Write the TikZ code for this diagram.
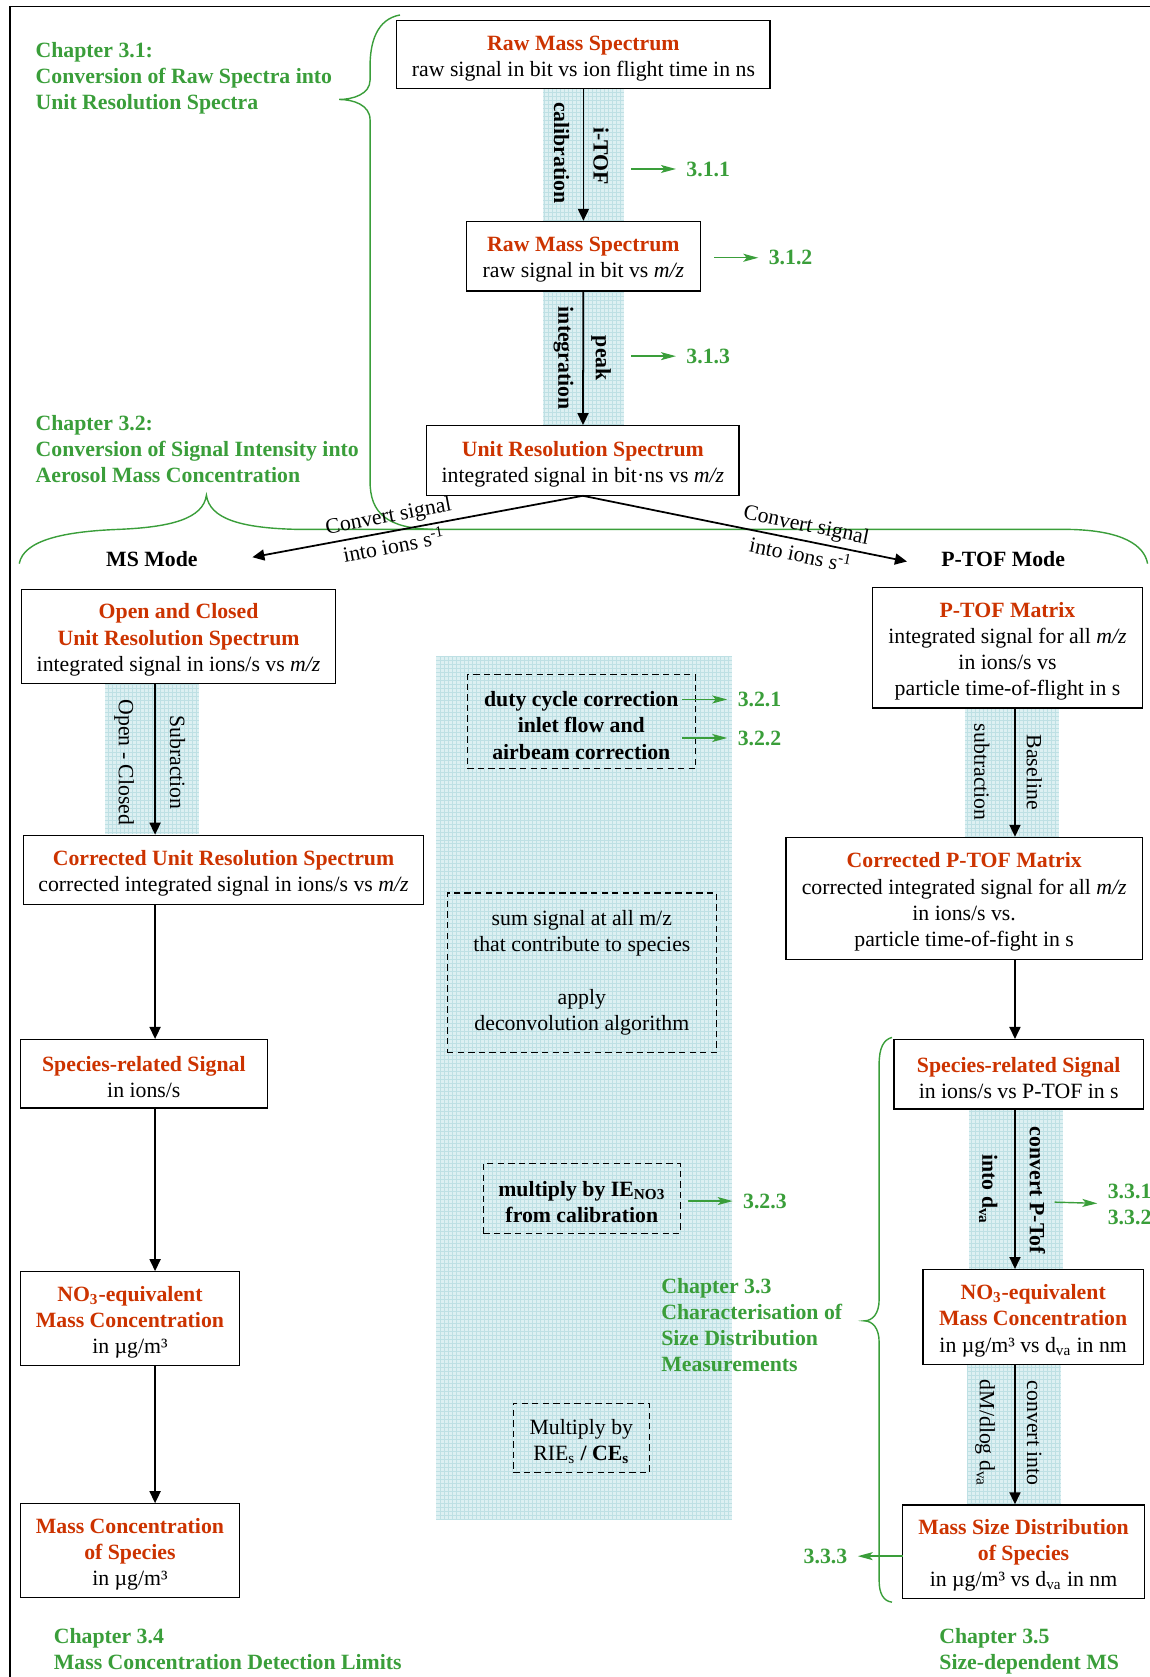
\documentclass[tikz,border=0pt]{standalone}
\usepackage{fontspec}
\setmainfont{Liberation Serif}
\usetikzlibrary{arrows.meta}

\definecolor{chapgreen}{RGB}{58,158,58}
\definecolor{titlered}{RGB}{204,51,0}
\definecolor{bandfill}{RGB}{221,240,242}
\definecolor{bandgrid}{RGB}{190,224,228}

\newcommand{\boxtitle}[1]{\textcolor{titlered}{\textbf{#1}}}
\newcommand{\mzunit}{\textit{m/z}}
\newcommand{\topstrut}{\rule{0pt}{12.6pt}}

\begin{document}
\begin{tikzpicture}[x=0.214mm,y=-0.214mm,
	every node/.style={font=\fontsize{12.4}{14.9}\selectfont},
	boldtxt/.style={font=\fontsize{12.4}{14.9}\selectfont\bfseries},
	box/.style={draw,line width=0.7pt,align=center,inner sep=0pt},
	dbox/.style={draw,line width=0.6pt,dash pattern=on 3.6pt off 2.4pt,align=center,inner sep=0pt},
	flow/.style={line width=1pt,-{Triangle[length=2.4mm,width=2.2mm]}},
	secarrow/.style={chapgreen,line width=0.8pt,-{Stealth[length=3mm,width=1.6mm,inset=0.7mm]}},
	secnum/.style={chapgreen,boldtxt,anchor=west,align=left,inner sep=0pt,outer sep=2.1mm},
	chapter/.style={chapgreen,boldtxt,anchor=west,align=left,inner sep=0pt},
	steplabel/.style={rotate=-90,inner sep=0pt},
	chapbrace/.style={chapgreen,line width=0.8pt}]
	\useasboundingbox (0,0) rectangle (1075,1568);

	\draw[line width=1pt] (9,1568) -- (9,6) -- (1075,6);

	\foreach \xa/\ya/\xb/\yb in {508/83/583/207, 508/272/583/397, 98/639/186/780, 408/613/684/1421, 902/662/990/783, 906/1037/994/1187, 904/1276/992/1406} {
		\fill[bandfill] (\xa,\ya) rectangle (\xb,\yb);
		\draw[bandgrid,line width=0.15pt,step=0.8mm] (\xa,\yb) grid (\xb,\ya);
	}

	\draw[chapbrace] (374,14) .. controls (352,18) and (346,40) .. (346,62)
		-- (346,75) .. controls (346,88) and (330,93) .. (317,93)
		.. controls (330,93) and (346,98) .. (346,112)
		-- (346,450) .. controls (346,480) and (362,494) .. (405,495);
	\draw[chapbrace] (18,527) .. controls (22,505) and (60,497) .. (110,495)
		.. controls (160,493) and (190,485) .. (193,463)
		.. controls (196,485) and (225,494) .. (280,495)
		-- (1000,495) .. controls (1050,496) and (1070,510) .. (1073,527);
	\draw[chapbrace] (834,970) .. controls (826,972) and (822,980) .. (822,995)
		-- (822,1215) .. controls (822,1228) and (816,1235) .. (808,1235)
		.. controls (816,1235) and (822,1242) .. (822,1255)
		-- (822,1478) .. controls (822,1490) and (826,1497) .. (834,1498);

	\node[chapter] (ch31) at (33,73) {Chapter 3.1:\\Conversion of Raw Spectra into\\Unit Resolution Spectra};
	\node[chapter] (ch32) at (33,420) {Chapter 3.2:\\Conversion of Signal Intensity into\\Aerosol Mass Concentration};
	\node[chapter] (ch33) at (618,1239) {Chapter 3.3\\Characterisation of\\Size Distribution\\Measurements};
	\node[chapter] (ch34) at (50,1542) {Chapter 3.4\\Mass Concentration Detection Limits};
	\node[chapter] (ch35) at (878,1544) {Chapter 3.5\\Size-dependent MS};

	\node[box,minimum width=74.7mm,minimum height=13.7mm] (raw) at (545.5,51) {\topstrut\boxtitle{Raw Mass Spectrum}\\raw signal in bit vs ion flight time in ns};
	\node[box,minimum width=46.9mm,minimum height=13.9mm] (rawmz) at (545.5,239.5) {\topstrut\boxtitle{Raw Mass Spectrum}\\raw signal in bit vs \mzunit};
	\node[box,minimum width=62.5mm,minimum height=13.9mm] (urs) at (545,430.5) {\topstrut\boxtitle{Unit Resolution Spectrum}\\integrated signal in bit·ns vs \mzunit};

	\node[boldtxt] (msmode) at (142,523) {MS Mode};
	\node[boldtxt] (ptmode) at (938,523) {P-TOF Mode};

	\node[box,minimum width=62.9mm,minimum height=18.8mm] (oc) at (167,595) {\topstrut\boxtitle{Open and Closed}\\\boxtitle{Unit Resolution Spectrum}\\integrated signal in ions/s vs \mzunit};
	\node[box,minimum width=80mm,minimum height=13.9mm] (curs) at (209,813.5) {\topstrut\boxtitle{Corrected Unit Resolution Spectrum}\\corrected integrated signal in ions/s vs \mzunit};
	\node[box,minimum width=49.4mm,minimum height=13.7mm] (srs) at (134.5,1004) {\topstrut\boxtitle{Species-related Signal}\\in ions/s};
	\node[box,minimum width=43.9mm,minimum height=18.8mm] (no3) at (121.5,1233) {\topstrut\boxtitle{NO\textsubscript{3}-equivalent}\\\boxtitle{Mass Concentration}\\in µg/m³};
	\node[box,minimum width=43.9mm,minimum height=18.8mm] (mcs) at (121.5,1450) {\topstrut\boxtitle{Mass Concentration}\\\boxtitle{of Species}\\in µg/m³};

	\node[box,minimum width=53.9mm,minimum height=24.2mm] (ptof) at (942,605.5) {\topstrut\boxtitle{P-TOF Matrix}\\integrated signal for all \mzunit\\in ions/s vs\\particle time-of-flight in s};
	\node[box,minimum width=71.3mm,minimum height=24.4mm] (cptof) at (901.5,840) {\topstrut\boxtitle{Corrected P-TOF Matrix}\\corrected integrated signal for all \mzunit\\in ions/s vs.\\particle time-of-fight in s};
	\node[box,minimum width=49.9mm,minimum height=13.9mm] (srp) at (952.5,1004.5) {\topstrut\boxtitle{Species-related Signal}\\in ions/s vs P-TOF in s};
	\node[box,minimum width=44.1mm,minimum height=19mm] (no3p) at (966,1231.5) {\topstrut\boxtitle{NO\textsubscript{3}-equivalent}\\\boxtitle{Mass Concentration}\\in µg/m³ vs d\textsubscript{va} in nm};
	\node[box,minimum width=48.4mm,minimum height=18.8mm] (msd) at (957,1451) {\topstrut\boxtitle{Mass Size Distribution}\\\boxtitle{of Species}\\in µg/m³ vs d\textsubscript{va} in nm};

	\node[dbox,boldtxt,minimum width=45.6mm,minimum height=18.8mm] (duty) at (543.5,675) {\topstrut duty cycle correction\\inlet flow and\\airbeam correction};
	\node[dbox,minimum width=53.9mm,minimum height=31.9mm] (deconv) at (544,909.5) {sum signal at all m/z\\that contribute to species\\[14.9pt]apply\\deconvolution algorithm};
	\node[dbox,boldtxt,minimum width=39.4mm,minimum height=13.9mm] (ieno) at (544,1120.5) {\topstrut multiply by IE\textsubscript{NO3}\\from calibration};
	\node[dbox,minimum width=27.2mm,minimum height=13.9mm] (rie) at (543.5,1344.5) {\topstrut Multiply by\\RIE\textsubscript{s} \textbf{/ CE\textsubscript{s}}};

	\node[steplabel,boldtxt] (calib) at (525,143) {calibration};
	\node[steplabel,boldtxt] (itof) at (562,146) {i-TOF};
	\node[steplabel,boldtxt] (integ) at (527,335) {integration};
	\node[steplabel,boldtxt] (peak) at (562,335) {peak};
	\node[steplabel] (openclosed) at (116,713) {Open - Closed};
	\node[steplabel] (subr) at (166,713) {Subraction};
	\node[steplabel] (subtr) at (918,722) {subtraction};
	\node[steplabel] (baseln) at (967,722) {Baseline};
	\node[steplabel,boldtxt] (intodva) at (924,1112) {into d\textsubscript{va}};
	\node[steplabel,boldtxt] (convptof) at (970,1113) {convert P-Tof};
	\node[steplabel] (dmdlog) at (921,1340) {dM/dlog d\textsubscript{va}};
	\node[steplabel] (convinto) at (967,1340) {convert into};

	\node[secnum] (n311) at (632,158) {3.1.1};
	\node[secnum] (n312) at (709,241) {3.1.2};
	\node[secnum] (n313) at (632,333) {3.1.3};
	\node[secnum] (n321) at (680,654) {3.2.1};
	\node[secnum] (n322) at (680,690) {3.2.2};
	\node[secnum] (n323) at (685,1123) {3.2.3};
	\node[secnum] (n331) at (1026,1126) {3.3.1\\3.3.2};
	\node[secnum,anchor=east] (n333) at (802,1455) {3.3.3};

	\coordinate (lcol) at (145,0);
	\coordinate (rcol) at (949,0);
	\coordinate (msend) at (236,521);
	\coordinate (ptend) at (848,525);
	\coordinate (a311) at (590,158);
	\coordinate (a312) at (668,241);
	\coordinate (a313) at (590,333);
	\coordinate (a321) at (638,654);
	\coordinate (a322) at (638,690);
	\coordinate (a323) at (643,1123);
	\coordinate (a331) at (986,1124);
	\coordinate (a333) at (844,1455);

	\draw[flow] (raw) -- (rawmz);
	\draw[flow] (rawmz) -- (urs);
	\draw[flow] (urs.south) -- (msend)
		node[pos=0.58,sloped,above,inner sep=2pt] (cvl1) {Convert signal}
		node[pos=0.58,sloped,below,inner sep=2pt] (cvl2) {into ions s\textsuperscript{-1}};
	\draw[flow] (urs.south) -- (ptend)
		node[pos=0.68,sloped,above,inner sep=2pt] (cvr1) {Convert signal}
		node[pos=0.68,sloped,below,inner sep=2pt] (cvr2) {into ions s\textsuperscript{-1}};

	\draw[flow] (oc.south -| lcol) -- (curs.north -| lcol);
	\draw[flow] (curs.south -| lcol) -- (srs.north -| lcol);
	\draw[flow] (srs.south -| lcol) -- (no3.north -| lcol);
	\draw[flow] (no3.south -| lcol) -- (mcs.north -| lcol);

	\draw[flow] (ptof.south -| rcol) -- (cptof.north -| rcol);
	\draw[flow] (cptof.south -| rcol) -- (srp.north -| rcol);
	\draw[flow] (srp.south -| rcol) -- (no3p.north -| rcol);
	\draw[flow] (no3p.south -| rcol) -- (msd.north -| rcol);

	\draw[secarrow] (a311) -- (n311);
	\draw[secarrow] (a312) -- (n312);
	\draw[secarrow] (a313) -- (n313);
	\draw[secarrow] (a321) -- (n321);
	\draw[secarrow] (a322) -- (n322);
	\draw[secarrow] (a323) -- (n323);
	\draw[secarrow] (a331) -- (n331);
	\draw[secarrow] (a333) -- (n333);
\end{tikzpicture}
\end{document}
